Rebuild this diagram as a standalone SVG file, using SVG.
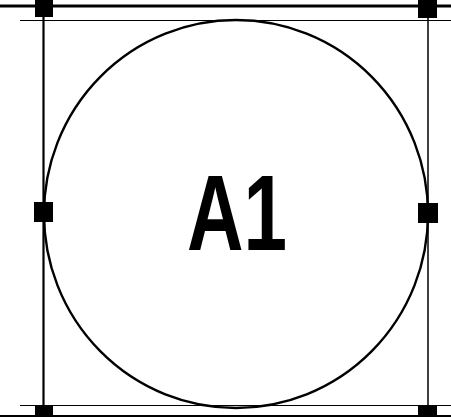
<svg xmlns="http://www.w3.org/2000/svg" width="451" height="417" viewBox="0 0 451 417">
<style>
.h{fill:#000}
.ln{stroke:#000;fill:none}
.lbl{font-family:"Liberation Sans",Arial,sans-serif;font-weight:bold;font-size:107px;fill:#000}
</style>
<rect width="451" height="417" fill="#fff"/>
<g id="frame">
<line class="ln" x1="0" y1="6" x2="451" y2="6" stroke-width="3"/>
<line class="ln" x1="20" y1="20.5" x2="451" y2="20.5" stroke-width="1"/>
<line class="ln" x1="20" y1="405.5" x2="451" y2="405.5" stroke-width="1"/>
<line class="ln" x1="0" y1="416" x2="451" y2="416" stroke-width="2"/>
<line class="ln" x1="43.5" y1="10" x2="43.5" y2="412" stroke-width="2.2"/>
<line class="ln" x1="428" y1="10" x2="428" y2="412" stroke-width="1.5"/>
</g>
<g id="handles">
<rect class="h" x="35" y="0" width="18" height="17"/>
<rect class="h" x="418" y="0" width="19" height="18"/>
<rect class="h" x="35" y="405" width="18" height="12"/>
<rect class="h" x="418" y="405" width="19" height="12"/>
<rect class="h" x="34" y="202" width="19" height="20"/>
<rect class="h" x="418" y="203" width="20" height="20"/>
</g>
<g id="A1">
<ellipse class="ln" cx="236" cy="214" rx="192" ry="194" stroke-width="2.4"/>
<text class="lbl" x="187" y="250" textLength="100" lengthAdjust="spacingAndGlyphs">A1</text>
</g>
</svg>
